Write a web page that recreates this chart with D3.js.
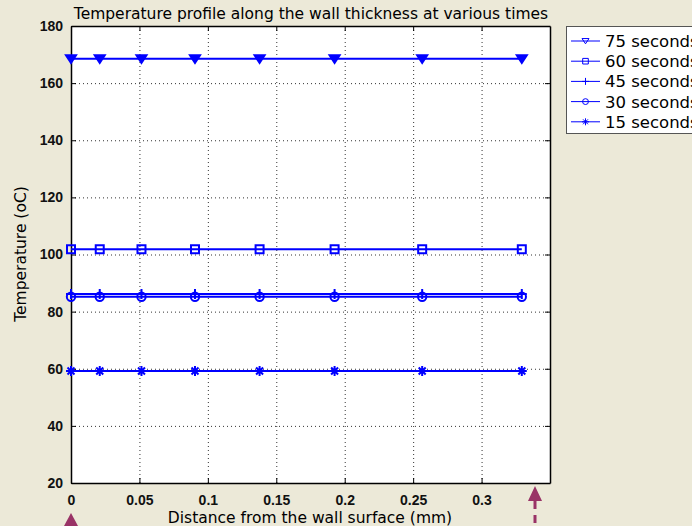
<!DOCTYPE html>
<html lang="en">
<head>
  <meta charset="UTF-8">
  <title>Temperature profile</title>
  <script src="https://d3js.org/d3.v7.min.js"></script>
  <style>
    body { margin: 0; background-color: #ece9d8; overflow: hidden; }
    svg { display: block; font-family: "DejaVu Sans", sans-serif; }
    .grid line { stroke: #333; stroke-dasharray: 1,3; }
    .grid path { display: none; }
    .axis text { font-size: 14px; font-weight: bold; fill: #111; }
    .axis path, .axis line { stroke: #000; }
  </style>
</head>
<body>
  <div id="chart"></div>
  <script>
    // Sample positions (mm) and temperatures per time
    const distance = [0, 0.021, 0.0515, 0.0906, 0.1378, 0.1926, 0.2566, 0.3294];
    const series = ['75 seconds', '60 seconds', '45 seconds', '30 seconds', '15 seconds'];
    const temp75 = [168.5, 168.5, 168.5, 168.5, 168.5, 168.5, 168.5, 168.5];
    const temp60 = [101.8, 101.8, 101.8, 101.8, 101.8, 101.8, 101.8, 101.8];
    const temp45 = [86.2, 86.2, 86.2, 86.2, 86.2, 86.2, 86.2, 86.2];
    const temp30 = [85.2, 85.2, 85.2, 85.2, 85.2, 85.2, 85.2, 85.2];
    const temp15 = [59.2, 59.2, 59.2, 59.2, 59.2, 59.2, 59.2, 59.2];
    const xTicks = [0, 0.05, 0.1, 0.15, 0.2, 0.25, 0.3];
    const yTicks = [20, 40, 60, 80, 100, 120, 140, 160, 180];

    const allTemps = [temp75, temp60, temp45, temp30, temp15];
    const markers = ['tri', 'square', 'plus', 'circle', 'star'];

    const width = 692, height = 526;
    const margin = { top: 26, left: 71 };
    const innerWidth = 479, innerHeight = 457;

    const svg = d3.select('#chart').append('svg')
      .attr('width', width).attr('height', height);

    const g = svg.append('g')
      .attr('transform', `translate(${margin.left}, ${margin.top})`);

    const x = d3.scaleLinear().domain([0, 0.35]).range([0, innerWidth]);
    const y = d3.scaleLinear().domain([20, 180]).range([innerHeight, 0]);

    // plot background
    g.append('rect').attr('width', innerWidth).attr('height', innerHeight).attr('fill', '#fff');

    // dotted grid
    g.append('g').attr('class', 'grid')
      .attr('transform', `translate(0, ${innerHeight})`)
      .call(d3.axisBottom(x).tickValues(xTicks.slice(1)).tickSize(-innerHeight).tickFormat(''));
    g.append('g').attr('class', 'grid')
      .call(d3.axisLeft(y).tickValues(yTicks.slice(1, -1)).tickSize(-innerWidth).tickFormat(''));

    // axes with inward ticks on all four sides
    g.append('g').attr('class', 'axis')
      .attr('transform', `translate(0, ${innerHeight})`)
      .call(d3.axisBottom(x).tickValues(xTicks).tickFormat(d => String(d))
        .tickSizeInner(-5).tickSizeOuter(0).tickPadding(12));
    g.append('g').attr('class', 'axis')
      .call(d3.axisLeft(y).tickValues(yTicks).tickSizeInner(-5).tickSizeOuter(0).tickPadding(8));
    g.append('g').attr('class', 'axis')
      .call(d3.axisTop(x).tickValues(xTicks).tickSizeInner(-5).tickSizeOuter(0).tickFormat(''));
    g.append('g').attr('class', 'axis')
      .attr('transform', `translate(${innerWidth}, 0)`)
      .call(d3.axisRight(y).tickValues(yTicks).tickSizeInner(-5).tickSizeOuter(0).tickFormat(''));
    g.selectAll('.axis path').attr('stroke-width', 1.5);

    // marker paths, centred on 0,0
    function markerPath(type, s) {
      if (type === 'tri') return `M${-s},${-s * 0.7}L${s},${-s * 0.7}L0,${s * 0.8}Z`;
      if (type === 'square') return `M${-s * 0.8},${-s * 0.8}h${s * 1.6}v${s * 1.6}h${-s * 1.6}Z`;
      if (type === 'plus') return `M${-s},0H${s}M0,${-s}V${s}`;
      if (type === 'circle') return d3.symbol(d3.symbolCircle, Math.PI * s * s * 0.7)();
      return `M${-s},0H${s}M0,${-s}V${s}M${-s * 0.7},${-s * 0.7}L${s * 0.7},${s * 0.7}M${-s * 0.7},${s * 0.7}L${s * 0.7},${-s * 0.7}`;
    }

    const line = d3.line().x((d, i) => x(distance[i])).y(d => y(d));

    allTemps.forEach((vals, k) => {
      g.append('path')
        .datum(vals)
        .attr('fill', 'none')
        .attr('stroke', '#0000ff')
        .attr('stroke-width', 2)
        .attr('d', line);
      g.selectAll(null).data(vals).join('path')
        .attr('transform', (d, i) => `translate(${x(distance[i])}, ${y(d)})`)
        .attr('d', markerPath(markers[k], 5))
        .attr('fill', markers[k] === 'tri' || markers[k] === 'star' ? '#0000ff' : 'none')
        .attr('stroke', '#0000ff')
        .attr('stroke-width', 2);
    });

    // title and axis labels
    svg.append('text')
      .attr('x', 311).attr('y', 19)
      .attr('text-anchor', 'middle')
      .attr('font-size', 15.5)
      .text('Temperature profile along the wall thickness at various times');
    svg.append('text')
      .attr('x', 310).attr('y', 523)
      .attr('text-anchor', 'middle')
      .attr('font-size', 15.5)
      .text('Distance from the wall surface (mm)');
    svg.append('text')
      .attr('transform', 'rotate(-90)')
      .attr('x', -254).attr('y', 26)
      .attr('text-anchor', 'middle')
      .attr('font-size', 15.5)
      .text('Temperature (oC)');

    // legend
    const legend = svg.append('g').attr('transform', 'translate(566, 26)');
    legend.append('rect')
      .attr('x', 0.5).attr('y', 0.5).attr('width', 140).attr('height', 107)
      .attr('fill', '#fff').attr('stroke', '#555');
    series.forEach((name, k) => {
      const ly = 15 + k * 20.2;
      legend.append('line')
        .attr('x1', 5).attr('x2', 34).attr('y1', ly).attr('y2', ly)
        .attr('stroke', '#0000ff');
      legend.append('path')
        .attr('transform', `translate(19.5, ${ly})`)
        .attr('d', markerPath(markers[k], 3.5))
        .attr('fill', markers[k] === 'star' ? '#0000ff' : 'none')
        .attr('stroke', '#0000ff');
      legend.append('text')
        .attr('x', 39).attr('y', ly + 6)
        .attr('font-size', 16.5)
        .text(name);
    });

    // annotation arrows
    const arrowColor = '#993366';
    svg.append('path')
      .attr('d', `M${margin.left - 7},526L${margin.left},513L${margin.left + 7},526Z`)
      .attr('fill', arrowColor);
    svg.append('path')
      .attr('d', 'M528,501L535,486L542,501Z')
      .attr('fill', arrowColor);
    svg.append('line')
      .attr('x1', 535).attr('x2', 535).attr('y1', 501).attr('y2', 526)
      .attr('stroke', arrowColor).attr('stroke-width', 3)
      .attr('stroke-dasharray', '8,6');
  </script>
</body>
</html>
